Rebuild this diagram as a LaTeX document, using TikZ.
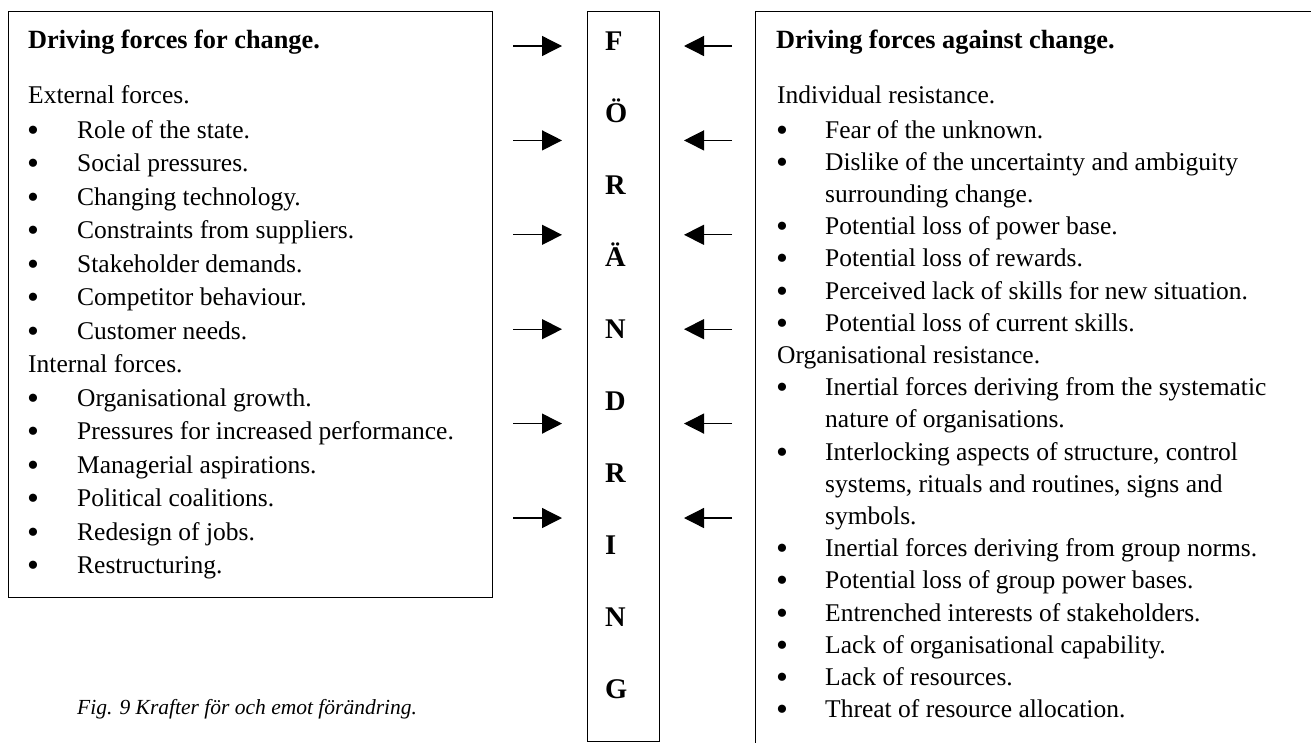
\documentclass[tikz,border=0pt]{standalone}
\usepackage{fontspec}
\setmainfont{Liberation Serif}
\usetikzlibrary{arrows.meta}
\begin{document}
\begin{tikzpicture}[x=1pt,y=-1pt,
  frame/.style={draw, line width=1.3pt, inner sep=0pt, anchor=north west},
  txt/.style={anchor=base west, inner sep=0pt, font=\fontsize{25.5}{30}\selectfont},
  head/.style={txt, font=\fontsize{26.3}{30}\selectfont\bfseries},
  dot/.style={anchor=base, inner sep=0pt, yshift=-3pt, font=\fontsize{34}{36}\selectfont},
  letter/.style={anchor=base west, inner sep=0pt, font=\fontsize{28.5}{30}\selectfont\bfseries},
  caption/.style={anchor=base west, inner sep=0pt, font=\fontsize{21.5}{26}\selectfont\itshape},
  force/.style={line width=1.3pt, -{Triangle[length=20pt,width=20pt]}},
]
\useasboundingbox (0,0) rectangle (1311,742);
\clip (0,0) rectangle (1311,742);

% the three frames
\node[frame, minimum width=484pt, minimum height=586pt] (forbox) at (8,11) {};
\node[frame, minimum width=72pt, minimum height=730pt] (mid) at (587,11) {};
\node[frame, minimum width=620pt, minimum height=800pt] (againstbox) at (755,11) {};

% the word down the middle column
\foreach \c [count=\i] in {F,Ö,R,Ä,N,D,R,I,N,G}
  \node[letter] (ch\i) at (605,{50.5+72*(\i-1)}) {\c};

% arrows pushing on the middle column from both sides
\foreach \i in {1,...,6} {
  \pgfmathsetmacro\ay{46+94.4*(\i-1)}
  \coordinate (pa\i) at (513,\ay);
  \coordinate (pb\i) at (562,\ay);
  \coordinate (qa\i) at (732,\ay);
  \coordinate (qb\i) at (684,\ay);
  \draw[force] (pa\i) -- (pb\i);
  \draw[force] (qa\i) -- (qb\i);
}

% forces for change
\node[head] (forhead) at (28,48) {Driving forces for change.};
\node[txt] (forext) at (28,103) {External forces.};
\foreach \k/\t [count=\i] in {
  b/Role of the state.,
  b/Social pressures.,
  b/Changing technology.,
  b/Constraints from suppliers.,
  b/Stakeholder demands.,
  b/Competitor behaviour.,
  b/Customer needs.,
  h/Internal forces.,
  b/Organisational growth.,
  b/Pressures for increased performance.,
  b/Managerial aspirations.,
  b/Political coalitions.,
  b/Redesign of jobs.,
  b/Restructuring.} {
  \pgfmathsetmacro\yy{138+33.5*(\i-1)}
  \if b\k
    \node[dot] (fb\i) at (33,\yy) {•};
    \node[txt] (ft\i) at (77,\yy) {\t};
  \fi
  \if h\k
    \node[txt] (ft\i) at (28,\yy) {\t};
  \fi
}

% forces against change
\node[head] (aghead) at (776,48) {Driving forces against change.};
\node[txt] (agind) at (777,103) {Individual resistance.};
\foreach \k/\t [count=\i] in {
  b/Fear of the unknown.,
  b/Dislike of the uncertainty and ambiguity,
  c/surrounding change.,
  b/Potential loss of power base.,
  b/Potential loss of rewards.,
  b/Perceived lack of skills for new situation.,
  b/Potential loss of current skills.,
  h/Organisational resistance.,
  b/Inertial forces deriving from the systematic,
  c/nature of organisations.,
  b/{Interlocking aspects of structure, control},
  c/{systems, rituals and routines, signs and},
  c/symbols.,
  b/Inertial forces deriving from group norms.,
  b/Potential loss of group power bases.,
  b/Entrenched interests of stakeholders.,
  b/Lack of organisational capability.,
  b/Lack of resources.,
  b/Threat of resource allocation.} {
  \pgfmathsetmacro\yy{138+32.2*(\i-1)}
  \if b\k
    \node[dot] (gb\i) at (782,\yy) {•};
    \node[txt] (gt\i) at (825,\yy) {\t};
  \fi
  \if c\k
    \node[txt] (gt\i) at (825,\yy) {\t};
  \fi
  \if h\k
    \node[txt] (gt\i) at (777,\yy) {\t};
  \fi
}

% figure caption
\node[caption] (figcap) at (77,714) {Fig. 9 Krafter för och emot förändring.};
\end{tikzpicture}
\end{document}
